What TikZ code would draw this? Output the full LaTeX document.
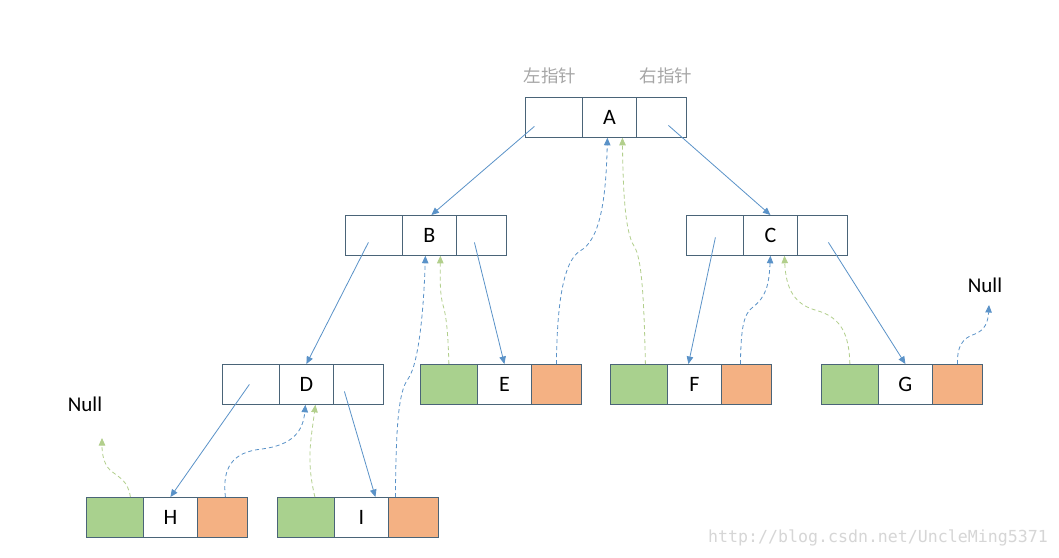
\documentclass[tikz,border=0pt]{standalone}
\usepackage{fontspec}
\setmainfont{Carlito}
\newfontfamily\cjk{Noto Sans CJK SC}
\newfontfamily\wmfont{DejaVu Sans Mono}
\usetikzlibrary{arrows.meta}
\definecolor{boxc}{HTML}{4A6478}
\definecolor{linec}{HTML}{5A92C8}
\definecolor{gfill}{HTML}{A9D18E}
\definecolor{ofill}{HTML}{F4B183}
\definecolor{gline}{HTML}{B2CF8C}
\definecolor{lblgray}{HTML}{A6A6A6}
\newcommand\tcell[6]{%
 \node[cellbox, minimum width=57pt, fill=#5] (#1-l) at (#2,#3) {};
 \node[cellbox, minimum width=54pt] (#1-m) at (#2+57,#3) {#4};
 \node[cellbox, minimum width=50pt, fill=#6] (#1-r) at (#2+111,#3) {};
}
\begin{document}
\begin{tikzpicture}[x=1pt,y=-1pt,
  cellbox/.style={draw=boxc, line width=0.8pt, minimum height=40pt, inner sep=0pt, anchor=north west, font=\fontsize{22}{26}\selectfont},
  solidarrow/.style={draw=linec, line width=0.8pt, -{Triangle[length=7.5pt,width=6.5pt]}},
  bdash/.style={draw=linec, line width=0.8pt, dash pattern=on 4pt off 3pt, -{Triangle[length=7.5pt,width=6.5pt]}},
  gdash/.style={draw=gline, line width=0.8pt, dash pattern=on 4pt off 3pt, -{Triangle[length=7.5pt,width=6.5pt]}},
  cjklabel/.style={font=\cjk\fontsize{17.5}{20}\selectfont, text=lblgray, inner sep=0pt},
  nulllabel/.style={font=\fontsize{21}{24}\selectfont, inner sep=0pt}]
\useasboundingbox[fill=white] (0,0) rectangle (1059,557);

\tcell{A}{525}{97}{A}{white}{white}
\tcell{B}{345}{215}{B}{white}{white}
\tcell{C}{686}{215}{C}{white}{white}
\tcell{D}{222}{364}{D}{white}{white}
\tcell{E}{420}{364}{E}{gfill}{ofill}
\tcell{F}{610}{364}{F}{gfill}{ofill}
\tcell{G}{821}{364}{G}{gfill}{ofill}
\tcell{H}{86}{497}{H}{gfill}{ofill}
\tcell{I}{277}{497}{I}{gfill}{ofill}

\node[cjklabel] (lptr) at (550,76) {左指针};
\node[cjklabel] (rptr) at (666,76) {右指针};
\node[nulllabel] (nullL) at (85,404) {Null};
\node[nulllabel] (nullR) at (985,285) {Null};
\coordinate (nullLend) at (102,438);
\coordinate (nullRend) at (989,305);

% solid child pointers
\draw[solidarrow] ([shift={(-19.5,9)}]A-l.center) -- ([xshift=2]B-m.north);
\draw[solidarrow] ([shift={(7,8)}]A-r.center) -- (C-m.north);
\draw[solidarrow] ([shift={(-5.5,7)}]B-l.center) -- (D-m.north);
\draw[solidarrow] ([shift={(-7,7)}]B-r.center) -- (E-m.north);
\draw[solidarrow] ([shift={(0.5,2)}]C-l.center) -- ([xshift=-6]F-m.north);
\draw[solidarrow] ([shift={(6,7)}]C-r.center) -- (G-m.north);
\draw[solidarrow] ([shift={(-1.5,0)}]D-l.center) -- (H-m.north);
\draw[solidarrow] ([shift={(-14,7)}]D-r.center) -- ([xshift=14]I-m.north);

% blue dashed threads (right)
\draw[bdash] (E-r.north) .. controls (557,310) and (562,262) .. (580,251) .. controls (600,240) and (606,200) .. ([xshift=-2]A-m.south);
\draw[bdash] ([xshift=-18]I-r.north) .. controls (396,430) and (398,392) .. (408,379) .. controls (420,362) and (424,300) .. ([xshift=-4]B-m.south);
\draw[bdash] ([xshift=-6]F-r.north) .. controls (741,330) and (743,314) .. (753,307) .. controls (766,297) and (769,285) .. (C-m.south);
\draw[bdash] (G-r.north) .. controls (957,347) and (962,338) .. (975,334) .. controls (985,330) and (988,322) .. (nullRend);
\draw[bdash] ([xshift=3]H-r.north) .. controls (222,468) and (232,452) .. (262,449) .. controls (292,445) and (303,432) .. ([xshift=-1]D-m.south);

% green dashed threads (left)
\draw[gdash] ([xshift=6.5]F-l.north) .. controls (644,300) and (642,258) .. (634,246) .. controls (625,232) and (623,190) .. ([xshift=13]A-m.south);
\draw[gdash] (E-l.north) .. controls (448,330) and (446,315) .. (443,305) .. controls (440,295) and (440,280) .. ([xshift=11]B-m.south);
\draw[gdash] (G-l.north) .. controls (849,335) and (842,317) .. (815,310) .. controls (795,304) and (786,290) .. ([xshift=14]C-m.south);
\draw[gdash] ([xshift=9]I-l.north) .. controls (306,460) and (311,440) .. ([xshift=9]D-m.south);
\draw[gdash] ([xshift=15.5]H-l.north) .. controls (128,480) and (118,477) .. (110,470) .. controls (103,463) and (102,452) .. (nullLend);

% watermark
\node[font=\wmfont\fontsize{16.6}{18}\selectfont, text=black!16, inner sep=0pt] (wm) at (878,538) {http://blog.csdn.net/UncleMing5371};
\end{tikzpicture}
\end{document}
